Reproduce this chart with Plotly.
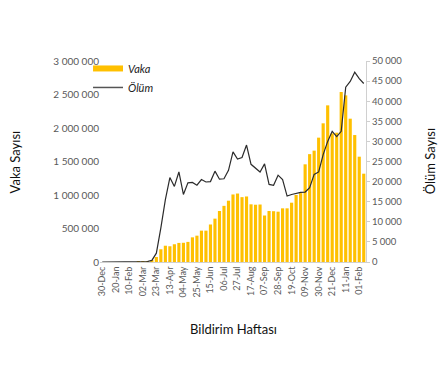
import plotly.graph_objects as go

weeks = ["30-Dec", "06-Jan", "13-Jan", "20-Jan", "27-Jan", "03-Feb", "10-Feb", "17-Feb", "24-Feb",
         "02-Mar", "09-Mar", "16-Mar", "23-Mar", "30-Mar", "06-Apr", "13-Apr", "20-Apr", "27-Apr",
         "04-May", "11-May", "18-May", "25-May", "01-Jun", "08-Jun", "15-Jun", "22-Jun", "29-Jun",
         "06-Jul", "13-Jul", "20-Jul", "27-Jul", "03-Aug", "10-Aug", "17-Aug", "24-Aug", "31-Aug",
         "07-Sep", "14-Sep", "21-Sep", "28-Sep", "05-Oct", "12-Oct", "19-Oct", "26-Oct", "02-Nov",
         "09-Nov", "16-Nov", "23-Nov", "30-Nov", "07-Dec", "14-Dec", "21-Dec", "28-Dec", "04-Jan",
         "11-Jan", "18-Jan", "25-Jan", "01-Feb", "08-Feb"]

tick_labels = ["30-Dec", "20-Jan", "10-Feb", "02-Mar", "23-Mar", "13-Apr", "04-May", "25-May",
               "15-Jun", "06-Jul", "27-Jul", "17-Aug", "07-Sep", "28-Sep", "19-Oct", "09-Nov",
               "30-Nov", "21-Dec", "11-Jan", "01-Feb"]

vaka = [0, 0, 0, 0, 0, 0, 0, 0, 500,
        2000, 9000, 30000, 75000, 190000, 243000, 235000, 265000, 285000,
        287000, 300000, 368000, 393000, 468000, 468000, 560000, 647000, 761000,
        838000, 915000, 1008000, 1022000, 968000, 978000, 861000, 855000, 858000,
        694000, 761000, 758000, 751000, 801000, 801000, 885000, 1000000, 1028000,
        1458000, 1610000, 1662000, 1856000, 2070000, 2338000, 1920000, 1930000, 2537000,
        2487000, 2139000, 1895000, 1572000, 1318000]

olum = [0, 0, 0, 0, 0, 0, 0, 0, 0,
        20, 120, 400, 2200, 8500, 15500, 21000, 18800, 22400,
        16800, 19700, 19800, 19100, 20500, 19900, 20000, 22600, 20600,
        20700, 22800, 27400, 25600, 26000, 29100, 24300, 23400, 22400,
        24400, 19300, 19100, 21600, 20500, 16400, 16800, 17100, 17300,
        17400, 18500, 21800, 22400, 26700, 30000, 32500, 31200, 32500,
        43500, 44900, 47200, 45600, 44400]

FONT = "Lato, 'Open Sans', sans-serif"
GRAY = "#595959"
GOLD = "#FFC000"

fig = go.Figure()
fig.add_trace(go.Bar(x=weeks, y=vaka, name="Vaka", marker=dict(color=GOLD, line_width=0),
                     yaxis="y", showlegend=False))
fig.add_trace(go.Scatter(x=weeks, y=olum, name="Ölüm", mode="lines",
                         line=dict(color="#2b2b2b", width=1.2), yaxis="y2", showlegend=False))
# legend entries (Excel-style swatches)
fig.add_trace(go.Scatter(x=[None], y=[None], name="<i>Vaka</i>", mode="lines",
                         line=dict(color=GOLD, width=6), legendrank=1))
fig.add_trace(go.Scatter(x=[None], y=[None], name="<i>Ölüm</i>", mode="lines",
                         line=dict(color="#555555", width=1.5), legendrank=2))

# page body has an 8px margin, so the figure is 440x360 and offset by 8px
fig.update_layout(
    template="none",
    width=440, height=360,
    margin=dict(l=92, r=82, t=53, b=106, autoexpand=False),
    paper_bgcolor="white", plot_bgcolor="white",
    separators=", ",
    bargap=0.3,
    showlegend=True,
    legend=dict(x=-0.045, y=1.035, xanchor="left", yanchor="top", bgcolor="rgba(0,0,0,0)",
                font=dict(family=FONT, size=11, color="#222"), tracegroupgap=0, itemwidth=30),
    xaxis=dict(type="category", tickmode="array", tickvals=tick_labels, ticktext=tick_labels,
               tickangle=-90, tickfont=dict(family=FONT, size=9, color=GRAY), automargin=False,
               showline=True, linecolor="#d0d0d0", linewidth=1, ticks="", showgrid=False,
               zeroline=False),
    yaxis=dict(range=[0, 3000000], tickvals=[0, 500000, 1000000, 1500000, 2000000, 2500000, 3000000],
               tickformat=",d", tickfont=dict(family=FONT, size=10, color=GRAY), automargin=False,
               showgrid=False, zeroline=False, showline=False, ticks=""),
    yaxis2=dict(range=[0, 50000], overlaying="y", side="right", automargin=False,
                tickvals=[0, 5000, 10000, 15000, 20000, 25000, 30000, 35000, 40000, 45000, 50000],
                tickformat=",d", tickfont=dict(family=FONT, size=9.5, color=GRAY),
                showgrid=False, zeroline=False, showline=True, linecolor="#d0d0d0", linewidth=1,
                ticks="outside", ticklen=3, tickcolor="#d0d0d0"),
    annotations=[
        dict(text="Vaka Sayısı", xref="paper", yref="paper", x=-0.32, y=0.5, textangle=-90,
             xanchor="center", yanchor="middle",
             showarrow=False, font=dict(family=FONT, size=13, color="#111")),
        dict(text="Ölüm Sayısı", xref="paper", yref="paper", x=1.24, y=0.5, textangle=-90,
             xanchor="center", yanchor="middle",
             showarrow=False, font=dict(family=FONT, size=13, color="#111")),
        dict(text="Bildirim Haftası", xref="paper", yref="paper", x=0.5, y=-0.333,
             xanchor="center", yanchor="middle",
             showarrow=False, font=dict(family=FONT, size=13, color="#111")),
    ],
)

fig.write_html("out.html")
